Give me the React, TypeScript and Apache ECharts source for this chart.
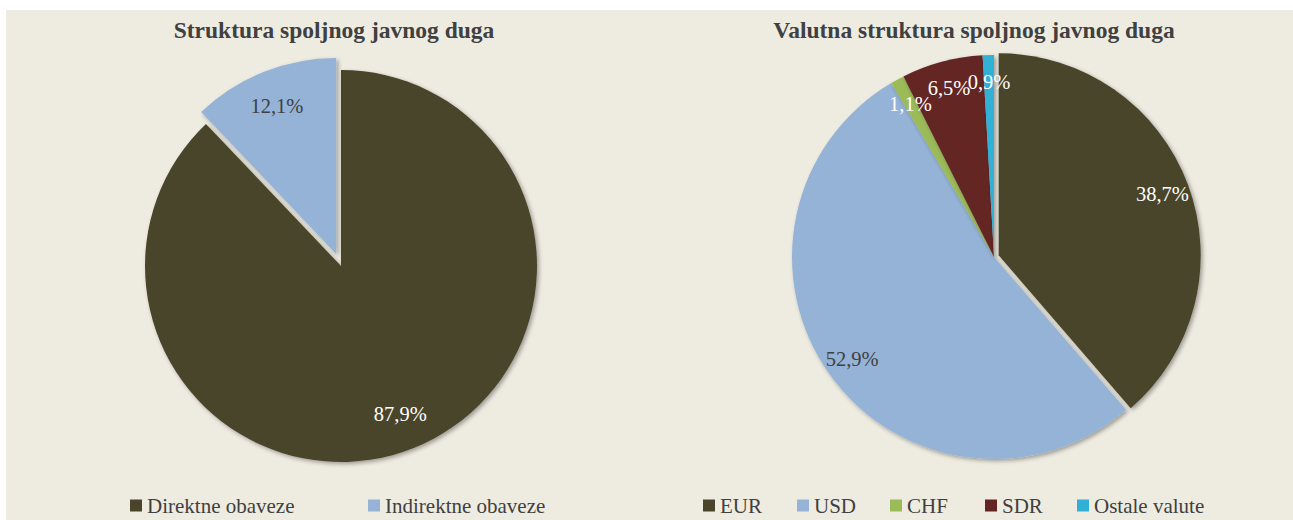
import React, { useEffect, useRef } from "react";
import * as echarts from "echarts";

const leftTitle = "Struktura spoljnog javnog duga";
const leftCategories = ["Direktne obaveze", "Indirektne obaveze"];
const leftValues = [87.9, 12.1];

const rightTitle = "Valutna struktura spoljnog javnog duga";
const rightCategories = ["EUR", "USD", "CHF", "SDR", "Ostale valute"];
const rightValues = [38.7, 52.9, 1.1, 6.5, 0.9];

// styles
const leftColors = ["#4A452A", "#95B3D7"];
const leftLabelColors = ["#FFFFFF", "#404040"];
const leftSelected = [false, true];
const rightColors = ["#4A452A", "#95B3D7", "#9BBB59", "#632523", "#31B0D6"];
const rightLabelColors = ["#FFFFFF", "#404040", "#FFFFFF", "#FFFFFF", "#FFFFFF"];
const rightSelected = [true, false, false, false, false];

const FONT = "Times New Roman";
const fmt = (v: number) => `${v.toFixed(1).replace(".", ",")}%`;

function buildPie(
  cats: string[],
  vals: number[],
  colors: string[],
  labelColors: string[],
  selected: boolean[],
  center: [number, number],
  r: number,
  offset: number,
  labelInner: number
) {
  const main = {
    type: "pie",
    center,
    radius: [0, r],
    startAngle: 90,
    clockwise: true,
    selectedMode: "multiple",
    selectedOffset: offset,
    silent: true,
    avoidLabelOverlap: false,
    label: { show: false },
    labelLine: { show: false },
    emphasis: { disabled: true },
    select: { itemStyle: { borderWidth: 0 } },
    itemStyle: {
      shadowBlur: 4,
      shadowOffsetX: 2,
      shadowOffsetY: 2,
      shadowColor: "rgba(0,0,0,0.35)",
    },
    data: cats.map((name, i) => ({
      name,
      value: vals[i],
      selected: selected[i],
      itemStyle: { color: colors[i] },
    })),
  };
  const labels = {
    type: "pie",
    center,
    radius: [r * labelInner, r],
    startAngle: 90,
    clockwise: true,
    selectedMode: "multiple",
    selectedOffset: offset,
    silent: true,
    avoidLabelOverlap: false,
    labelLayout: { hideOverlap: false },
    z: 5,
    labelLine: { show: false },
    emphasis: { disabled: true },
    select: { itemStyle: { borderWidth: 0 } },
    itemStyle: { color: "rgba(0,0,0,0)" },
    label: {
      show: true,
      position: "inside",
      fontFamily: FONT,
      fontSize: 20.5,
      formatter: (p: any) => fmt(p.value),
    },
    data: cats.map((name, i) => ({
      name,
      value: vals[i],
      selected: selected[i],
      label: { color: labelColors[i] },
    })),
  };
  return [main, labels];
}

export default function App() {
  const ref = useRef<HTMLDivElement>(null);
  useEffect(() => {
    if (!ref.current) return;
    const chart = echarts.init(ref.current, undefined, { renderer: "svg" });

    const legendLefts = [130, 368];
    const rightLegendLefts = [703, 797, 890, 985, 1077];
    const legendCommon = {
      top: 495,
      padding: 0,
      icon: "rect",
      itemWidth: 12,
      itemHeight: 12,
      selectedMode: false,
      textStyle: { fontFamily: FONT, fontSize: 21, color: "#404040" },
    };
    const legends = [
      ...leftCategories.map((name, i) => ({
        ...legendCommon,
        left: legendLefts[i],
        data: [{ name, itemStyle: { color: leftColors[i] } }],
      })),
      ...rightCategories.map((name, i) => ({
        ...legendCommon,
        left: rightLegendLefts[i],
        data: [{ name, itemStyle: { color: rightColors[i] } }],
      })),
    ];

    chart.setOption({
      animation: false,
      graphic: [
        {
          type: "rect",
          shape: { x: 6, y: 10, width: 1287, height: 510 },
          style: { fill: "#EEECE1" },
          z: -10,
          silent: true,
        },
        {
          type: "text",
          x: 334,
          y: 30,
          style: {
            text: leftTitle,
            fontFamily: FONT,
            fontSize: 23.5,
            fontWeight: "bold",
            fill: "#404040",
            align: "center",
            verticalAlign: "middle",
          },
        },
        {
          type: "text",
          x: 974,
          y: 30,
          style: {
            text: rightTitle,
            fontFamily: FONT,
            fontSize: 23.5,
            fontWeight: "bold",
            fill: "#404040",
            align: "center",
            verticalAlign: "middle",
          },
        },
      ],
      legend: legends,
      series: [
        ...buildPie(
          leftCategories,
          leftValues,
          leftColors,
          leftLabelColors,
          leftSelected,
          [341, 266],
          196,
          13,
          0.6
        ),
        ...buildPie(
          rightCategories,
          rightValues,
          rightColors,
          rightLabelColors,
          rightSelected,
          [994, 257],
          202,
          5,
          0.7
        ),
      ],
    });
    return () => chart.dispose();
  }, []);

  return (
    <div
      ref={ref}
      style={{
        position: "absolute",
        left: 0,
        top: 0,
        width: 1293,
        height: 520,
        background: "#FFFFFF",
      }}
    />
  );
}
